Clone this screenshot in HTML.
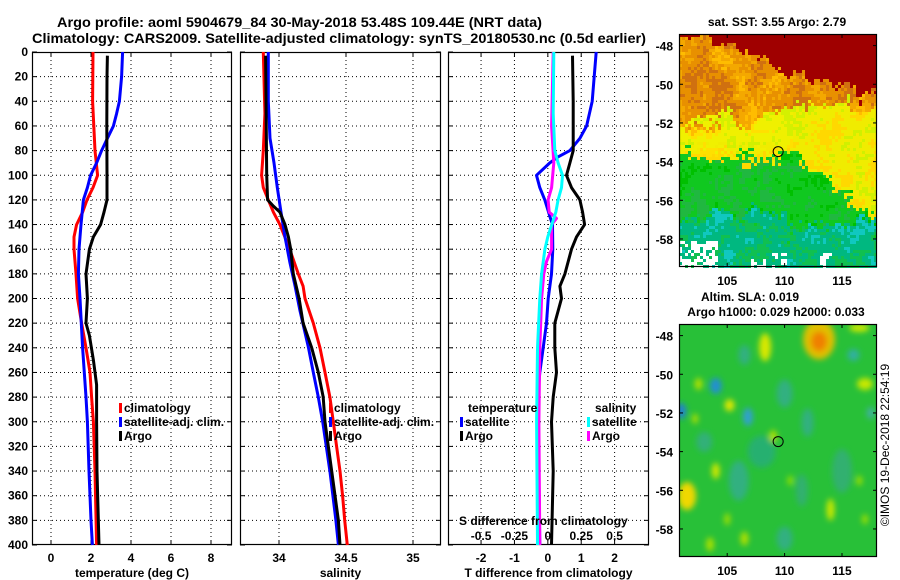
<!DOCTYPE html>
<html><head><meta charset="utf-8"><title>Argo profile</title>
<style>
html,body{margin:0;padding:0;background:#fff;}
svg{display:block;font-family:"Liberation Sans",Arial,sans-serif;font-weight:bold;}
</style></head>
<body>
<svg id="fig" width="900" height="580" viewBox="0 0 900 580" xmlns="http://www.w3.org/2000/svg">
<text x="57" y="27" font-size="14" textLength="485" lengthAdjust="spacingAndGlyphs">Argo profile: aoml 5904679_84 30-May-2018 53.48S 109.44E (NRT data)</text>
<text x="32" y="43" font-size="14" textLength="614" lengthAdjust="spacingAndGlyphs">Climatology: CARS2009. Satellite-adjusted climatology: synTS_20180530.nc (0.5d earlier)</text>
<text x="777" y="26" font-size="12" text-anchor="middle">sat. SST: 3.55 Argo: 2.79</text>
<text x="750" y="301" font-size="12" text-anchor="middle">Altim. SLA: 0.019</text>
<text x="776" y="316" font-size="12" text-anchor="middle">Argo h1000: 0.029 h2000: 0.033</text>
<text transform="translate(889,445) rotate(-90)" font-size="12" font-weight="normal" text-anchor="middle">©IMOS 19-Dec-2018 22:54:19</text>
</svg>
<script>
// ---- data (depth in m) ----
const tClimDepth = [0,40,80,100,110,120,130,140,150,160,180,200,220,240,260,280,300,340,400];
const tClimVal   = [2.1,2.08,2.2,2.33,2.1,1.8,1.58,1.28,1.15,1.15,1.25,1.33,1.53,1.75,1.95,2.03,2.12,2.2,2.28];
const tSatDepth  = [0,20,40,50,60,70,80,90,100,110,120,140,160,180,200,240,280,300,340,380,400];
const tSatVal    = [3.58,3.53,3.42,3.28,3.12,2.82,2.53,2.28,1.98,1.82,1.62,1.5,1.4,1.37,1.45,1.58,1.75,1.82,1.9,2.0,2.07];
const tArgoDepth = [3,20,60,100,120,130,140,150,160,180,200,220,230,250,270,300,340,400];
const tArgoVal   = [2.82,2.8,2.79,2.8,2.8,2.65,2.48,2.12,1.92,1.75,1.82,1.75,1.92,2.12,2.28,2.28,2.3,2.4];

const sClimDepth = [0,50,80,100,110,120,130,140,160,180,190,200,220,240,260,280,300,320,340,360,380,400];
const sClimVal   = [33.883,33.895,33.883,33.87,33.883,33.92,33.958,34.007,34.08,34.144,34.18,34.194,34.256,34.306,34.343,34.38,34.405,34.43,34.455,34.475,34.49,34.51];
const sSatDepth  = [0,40,70,90,110,130,150,170,190,210,240,260,280,300,340,380,400];
const sSatVal    = [33.92,33.92,33.933,33.963,33.987,34.015,34.045,34.08,34.12,34.157,34.22,34.256,34.293,34.326,34.38,34.425,34.443];
const sArgoDepth = [3,100,120,125,130,140,150,160,180,200,220,240,260,280,300,340,380,400];
const sArgoVal   = [33.9,33.908,33.915,33.958,34.007,34.045,34.07,34.087,34.107,34.15,34.18,34.244,34.293,34.33,34.343,34.393,34.443,34.455];

const dTSatDepth = [0,40,60,70,80,85,90,100,110,120,135,140,160,180,200,220,240,260,280,400];
const dTSatVal   = [1.45,1.33,1.16,0.96,0.66,0.31,0.06,-0.34,-0.24,-0.09,0.08,0.14,0.15,0.11,0.01,-0.04,-0.14,-0.24,-0.3,-0.24];
const dTArgoDepth= [3,40,80,90,100,110,120,130,140,150,160,180,190,200,220,240,260,280,300,340,400];
const dTArgoVal  = [0.74,0.76,0.76,0.66,0.56,0.71,0.96,1.04,1.1,0.86,0.71,0.51,0.36,0.41,0.21,0.21,0.26,0.16,0.11,0.16,0.11];
const dSArgoDepth= [0,60,90,110,120,130,135,140,160,170,180,200,240,300,400];
const dSArgoVal  = [0.04,0.028,0.045,0.028,0.002,0.01,0.065,0.028,0.028,-0.01,-0.03,-0.047,-0.06,-0.067,-0.06];
const dSSatDepth = [0,50,80,90,100,110,120,130,140,150,160,180,200,240,300,400];
const dSSatVal   = [0.045,0.04,0.052,0.077,0.11,0.102,0.077,0.06,0.03,0.0,-0.022,-0.047,-0.06,-0.077,-0.084,-0.077];

const depthTicks = [0,20,40,60,80,100,120,140,160,180,200,220,240,260,280,300,320,340,360,380,400];
const tTicks = [0,2,4,6,8];
const sTicks = [34,34.5,35];
const sTickLabels = ["34","34.5","35"];
const dTTicks = [-2,-1,0,1,2];
const dSTicks = [-0.5,-0.25,0,0.25,0.5];
const dSTickLabels = ["-0.5","-0.25","0","0.25","0.5"];
const latTicks = [-48,-50,-52,-54,-56,-58];
const lonTicks = [105,110,115];
const argoLon = 109.44, argoLat = -53.48;

// ---- helpers ----
const NS="http://www.w3.org/2000/svg";
const svg=document.getElementById('fig');
function mk(tag,attrs,parent){const e=document.createElementNS(NS,tag);for(const k in attrs)e.setAttribute(k,attrs[k]);(parent||svg).appendChild(e);return e;}
const yTop=52,yBot=545;
const yD=d=>yTop+(yBot-yTop)*d/400;

function panel(name,x0,x1,xmin,xmax,xticks,xlabels,showY,title){
  const sx=v=>x0+(x1-x0)*(v-xmin)/(xmax-xmin);
  const g=mk('g',{});
  
  
  depthTicks.forEach(d=>{
    if(d>0&&d<400){const l=mk('line',{x1:x0,x2:x1,y1:yD(d),y2:yD(d),stroke:'#000','stroke-width':1,'stroke-dasharray':'1,3'},g);
      }
    mk('line',{x1:x0,x2:x0+5,y1:yD(d),y2:yD(d),stroke:'#000'},g);
    mk('line',{x1:x1-5,x2:x1,y1:yD(d),y2:yD(d),stroke:'#000'},g);
    if(showY){const t=mk('text',{x:x0-4,y:yD(d)+4,'font-size':12,'text-anchor':'end'},g);t.textContent=d;
      }
  });
  xticks.forEach((v,i)=>{
    const x=sx(v);
    const l=mk('line',{x1:x,x2:x,y1:yTop,y2:yBot,stroke:'#000','stroke-dasharray':'1,3'},g);
    
    mk('line',{x1:x,x2:x,y1:yBot-5,y2:yBot,stroke:'#000'},g);
    mk('line',{x1:x,x2:x,y1:yTop,y2:yTop+5,stroke:'#000'},g);
    const t=mk('text',{x:x,y:562,'font-size':12,'text-anchor':'middle'},g);t.textContent=xlabels[i];
    
  });
  const r=mk('rect',{x:x0+0.5,y:yTop+0.5,width:x1-x0-1,height:yBot-yTop-1,fill:'none',stroke:'#000','stroke-width':1.2},g);
  
  const tt=mk('text',{x:(x0+x1)/2,y:577,'font-size':12,'text-anchor':'middle'},g);tt.textContent=title;
  
  return {g,sx};
}
function series(p,name,depths,vals,color,scale){
  let d='';
  depths.forEach((z,i)=>{const x=p.sx(vals[i]*(scale||1)),y=yD(z);d+=(i?'L':'M')+x.toFixed(1)+','+y.toFixed(1);});
  const e=mk('path',{d:d,fill:'none',stroke:color,'stroke-width':3,'stroke-linejoin':'round'},p.g);
  
  
}
function legendEntry(name,x,y,color,label){
  const g=mk('g',{});
  
  
  mk('rect',{x:x,y:y-9,width:3,height:10,fill:color},g);
  const t=mk('text',{x:x+5,y:y,'font-size':12},g);t.textContent=label;
}

// temperature panel
const p1=panel('temperature-panel',32,232,-0.95,9.05,tTicks,tTicks.map(String),true,'temperature (deg C)');
series(p1,'temp-climatology-line',tClimDepth,tClimVal,'#ff0000');
series(p1,'temp-satellite-line',tSatDepth,tSatVal,'#0000ff');
series(p1,'temp-argo-line',tArgoDepth,tArgoVal,'#000000');
legendEntry('legend-climatology',119,412,'#ff0000','climatology');
legendEntry('legend-satellite-adj',119,426,'#0000ff','satellite-adj. clim.');
legendEntry('legend-argo',119,440,'#000','Argo');

// salinity panel
const p2=panel('salinity-panel',240,441,33.709,35.209,sTicks,sTickLabels,false,'salinity');
series(p2,'sal-climatology-line',sClimDepth,sClimVal,'#ff0000');
series(p2,'sal-satellite-line',sSatDepth,sSatVal,'#0000ff');
series(p2,'sal-argo-line',sArgoDepth,sArgoVal,'#000000');
legendEntry('legend-climatology-sal',329,412,'#ff0000','climatology');
legendEntry('legend-satellite-adj-sal',329,426,'#0000ff','satellite-adj. clim.');
legendEntry('legend-argo-sal',329,440,'#000','Argo');

// difference panel
const p3=panel('difference-panel',448,649,-2.99,3.03,dTTicks,dTTicks.map(String),false,'T difference from climatology');
series(p3,'dT-satellite-line',dTSatDepth,dTSatVal,'#0000ff');
series(p3,'dT-argo-line',dTArgoDepth,dTArgoVal,'#000000');
series(p3,'dS-argo-line',dSArgoDepth,dSArgoVal,'#ff00ff',4);
series(p3,'dS-satellite-line',dSSatDepth,dSSatVal,'#00ffff',4);
{
  const t=mk('text',{x:468,y:412,'font-size':12});t.textContent='temperature';
  
  const t2=mk('text',{x:595,y:412,'font-size':12});t2.textContent='salinity';
  
}
legendEntry('legend-dT-satellite',460,426,'#0000ff','satellite');
legendEntry('legend-dT-argo',460,440,'#000','Argo');
legendEntry('legend-dS-satellite',587,426,'#00ffff','satellite');
legendEntry('legend-dS-argo',587,440,'#ff00ff','Argo');
{
  const t=mk('text',{x:459,y:525,'font-size':12});t.textContent='S difference from climatology';
  
  dSTicks.forEach((v,i)=>{const e=mk('text',{x:p3.sx(v*4),y:540,'font-size':12,'text-anchor':'middle'});e.textContent=dSTickLabels[i];
    });
}

// ---- maps ----
const mx0=679,mx1=877;
const lonMin=100.8,lonMax=118.05;
const sxL=lon=>mx0+(mx1-mx0)*(lon-lonMin)/(lonMax-lonMin);
function hash(i,j){let h=(i*374761393+j*668265263)^0x5bd1e995;h=(h^(h>>>13))*1274126177;h=h^(h>>>16);return (h>>>0)/4294967295;}
function smooth(i,j){ // coarse smoothed hash
  const a=hash(i>>2,j>>2),b=hash((i>>2)+1,j>>2),c=hash(i>>2,(j>>2)+1),d=hash((i>>2)+1,(j>>2)+1);
  const fx=(i&3)/4,fy=(j&3)/4;return (a*(1-fx)+b*fx)*(1-fy)+(c*(1-fx)+d*fx)*fy-0.5;
}
function mapFrame(name,y0,y1){
  const latTop=-47.4, latBot=-59.45;
  const syL=lat=>y0+(y1-y0)*(latTop-lat)/(latTop-latBot);
  const g=mk('g',{});
  
  
  return {g,syL,y0,y1};
}
function mapAxes(m){
  latTicks.forEach(l=>{const y=m.syL(l);mk('line',{x1:mx0,x2:mx0+4,y1:y,y2:y,stroke:'#000'},m.g);mk('line',{x1:mx1-4,x2:mx1,y1:y,y2:y,stroke:'#000'},m.g);
    const t=mk('text',{x:mx0-6,y:y+5,'font-size':12,'text-anchor':'end'},m.g);t.textContent=l;
    });
  lonTicks.forEach(l=>{const x=sxL(l);mk('line',{x1:x,x2:x,y1:m.y1-4,y2:m.y1,stroke:'#000'},m.g);mk('line',{x1:x,x2:x,y1:m.y0,y2:m.y0+4,stroke:'#000'},m.g);
    const t=mk('text',{x:x,y:m.y1+18,'font-size':12,'text-anchor':'middle'},m.g);t.textContent=l;
    });
  const r=mk('rect',{x:mx0+0.5,y:m.y0+0.5,width:mx1-mx0-1,height:m.y1-m.y0-1,fill:'none',stroke:'#000','stroke-width':1.2},m.g);
  
  const c=mk('circle',{cx:sxL(argoLon),cy:m.syL(argoLat),r:5,fill:'none',stroke:'#000','stroke-width':1},m.g);
  
}
// SST map
const m1=mapFrame('sst-map',34,267);
{
  const cs=3;
  for(let y=m1.y0;y<m1.y1;y+=cs){for(let x=mx0;x<mx1;x+=cs){
    const i=(x-mx0)/cs|0,j=(y-m1.y0)/cs|0;
    const lon=lonMin+(x-mx0)/(mx1-mx0)*(lonMax-lonMin);
    const lat=-47.4-(y-m1.y0)/(m1.y1-m1.y0)*12.05;
    const n=hash(i,j)-0.5, s=smooth(i,j), n2=s*0.8+(hash(j+77,i+13)-0.5)*0.4;
    const L3= lon<103.5? -47.4 : (lon<108.5? -47.6-(lon-103.5)*0.25 : (lon<114? -48.9-(lon-108.5)*0.2: -50.1-(lon-114)*0.1));
    const L2= lon<107? -52.0 : (lon<112? -51.6 : -51.2);
    const L1= lon<111? -53.6 : -53.6-(lon-111)*0.5;
    const L0= -56.6 - (lon>110?0.7:0);
    let col;
    if(lat>L3+n*0.5+s) col='#a00000';
    else if(lat>L2+n*0.5+s*1.5) col= n2>0.2?'#d07010':(n2>-0.05?'#e89000':(n2>-0.25?'#f4a800':'#ffbc00'));
    else if(lat>-53.2+n*0.6+s && lon<110.5) col= n2>0.2?'#d4f000':(n2>-0.15?'#f0f000':'#ffe000');
    else if(lat>L1+n*0.6+s*1.2) col= n2>0.25?'#d0f000':(n2>-0.1?'#f0ec00':'#ffd800');
    else if(lat>L0+n*0.8+s*1.5) col= n2>0.2?'#00c000':(n2>-0.2?'#10c820':'#20b840');
    else col= n2>0.2?'#10c8c0':(n2>-0.15?'#00b880':'#10c050');
    if(lat<-58 && lon<104 && n<0.1) col='#ffffff';
    if(lat<-58.7 && n2>0.1 && ((lon>107 && lon<110)||(lon>113&&lon<116))) col='#ffffff';
    mk('rect',{x:x,y:y,width:cs,height:cs,fill:col},m1.g);
  }}
  mapAxes(m1);
}
// SLA map
const m2=mapFrame('sla-map',324,557);
{
  const defs=mk('defs',{},m2.g);
  const f=mk('filter',{id:'blur',x:'-50%',y:'-50%',width:'200%',height:'200%'},defs);
  mk('feGaussianBlur',{stdDeviation:3},f);
  const cp=mk('clipPath',{id:'mapclip'},defs);
  mk('rect',{x:mx0,y:m2.y0,width:mx1-mx0,height:m2.y1-m2.y0},cp);
  mk('rect',{x:mx0,y:m2.y0,width:mx1-mx0,height:m2.y1-m2.y0,fill:'#28c038'},m2.g);
  const bg=mk('g',{'clip-path':'url(#mapclip)',filter:'url(#blur)'},m2.g);
  const blobs=[[108,-54,14,16,'#28b070'],[106,-55.5,10,20,'#30b080'],[110,-51,8,14,'#30b080'],[112,-52.5,6,14,'#30b080'],[116,-49,6,6,'#30b0a0'],
    [115,-55,10,22,'#30b070'],[110,-58.5,8,12,'#30b080'],[103,-53.5,8,10,'#30b078'],[111.5,-56,6,16,'#30b070'],[106.5,-49,6,10,'#30b080'],
    [113,-48.2,16,20,'#e0c000'],[113,-48.3,8,10,'#f08000'],[108.3,-48.6,6,14,'#d8e800'],[101.5,-56.3,9,14,'#f0d800'],
    [104,-50.6,6,8,'#2090d0'],[106.8,-52.2,5,9,'#30a0d0'],[101,-51.9,5,8,'#2080d0'],[105.2,-51.6,5,6,'#e0e800'],[104,-55,4,8,'#d0e800'],
    [114,-57,4,11,'#c8e800'],[117,-50.5,8,6,'#c8e800'],[116.5,-47.6,10,4,'#d0e800'],[109,-53.2,4,6,'#b0e000'],
    [102.5,-50.5,4,6,'#b0e000'],[106.5,-58.5,4,7,'#b0e000'],[103.5,-58.8,4,7,'#a8e000'],[117.5,-52,4,6,'#40b0a0'],
    [102.2,-52.3,3,5,'#b0e000'],[105,-57.5,3,6,'#a0e000'],[116.5,-55.5,3,5,'#a0e000'],[117,-57.5,3,5,'#a0e000'],[110.5,-55.5,3,5,'#90e000']];
  blobs.forEach(b=>{mk('ellipse',{cx:sxL(b[0]),cy:m2.syL(b[1]),rx:b[2],ry:b[3],fill:b[4]},bg);});
  mapAxes(m2);
}
</script>
</body></html>
